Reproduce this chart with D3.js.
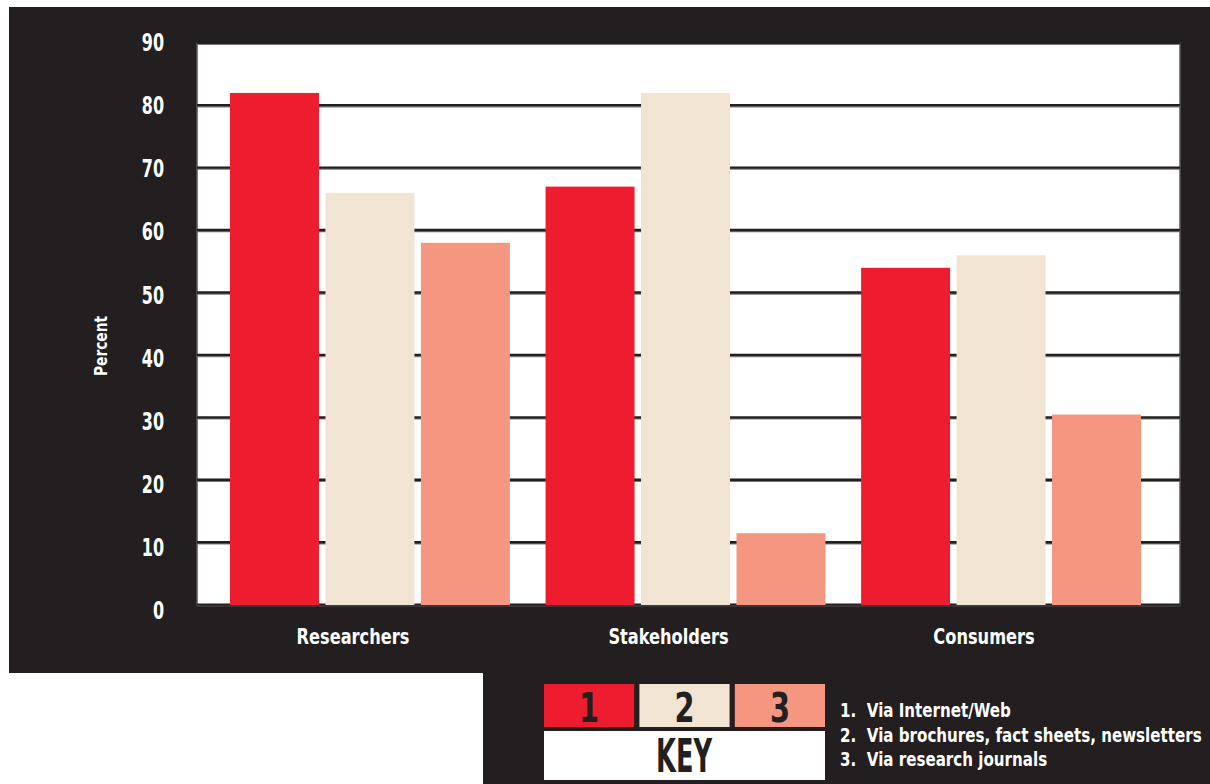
<!DOCTYPE html>
<html>
<head>
<meta charset="utf-8">
<script src="https://cdn.jsdelivr.net/npm/d3@7"></script>
<style>
  html, body { margin: 0; padding: 0; background: #ffffff; }
  svg { display: block; }
  text { font-family: "Liberation Sans Narrow", "DejaVu Sans Condensed", "Liberation Sans", sans-serif; font-weight: bold; white-space: pre; }
</style>
</head>
<body>
<svg id="chart" width="1210" height="784"></svg>
<script>
// Audience groups and the three dissemination channels
const categories = ["Researchers", "Stakeholders", "Consumers"];
const seriesKeys = ["1", "2", "3"];
const seriesNames = [
  "1.  Via Internet/Web",
  "2.  Via brochures, fact sheets, newsletters",
  "3.  Via research journals"
];
// Percent per channel, one array per channel, ordered like categories
const viaWeb = [82, 67, 54];
const viaPrint = [66, 82, 56];
const viaJournals = [58, 11.5, 30.5];
const yTicks = [0, 10, 20, 30, 40, 50, 60, 70, 80, 90];
const yLabel = "Percent";
const keyLabel = "KEY";

const colors = ["#ed1c2e", "#f1e4d2", "#f59680"];
const dark = "#231f20";

const series = [viaWeb, viaPrint, viaJournals];
const rows = categories.map((c, i) => ({
  category: c,
  values: seriesKeys.map((k, j) => ({ key: k, value: series[j][i], color: colors[j] }))
}));

const svg = d3.select("#chart");

// Dark panels behind the chart and the key
svg.append("rect").attr("x", 9).attr("y", 7).attr("width", 1201).attr("height", 666).attr("fill", dark);
svg.append("rect").attr("x", 483).attr("y", 672).attr("width", 727).attr("height", 112).attr("fill", dark);

const plot = { left: 197, right: 1180, top: 43, bottom: 605 };

const y = d3.scaleLinear().domain([0, 90]).range([plot.bottom, plot.top]);
const x0 = d3.scaleBand().domain(categories).range([230, 1141]).paddingInner(0.113).paddingOuter(0);
const x1 = d3.scaleBand().domain(seriesKeys).range([0, x0.bandwidth()]).paddingInner(0.068).paddingOuter(0);

// White plotting area with a thin grey frame
svg.append("rect")
  .attr("x", plot.left).attr("y", plot.top)
  .attr("width", plot.right - plot.left).attr("height", plot.bottom - plot.top)
  .attr("fill", "#ffffff").attr("stroke", "#5a5657").attr("stroke-width", 1.5);

// Horizontal grid lines
const grid = svg.append("g");
grid.selectAll("line.shade").data(yTicks).join("line")
  .attr("class", "shade")
  .attr("x1", plot.left).attr("x2", plot.right)
  .attr("y1", d => y(d) + 1.2).attr("y2", d => y(d) + 1.2)
  .attr("stroke", "#7a7677").attr("stroke-width", 1.5);
grid.selectAll("line.main").data(yTicks).join("line")
  .attr("class", "main")
  .attr("x1", plot.left).attr("x2", plot.right)
  .attr("y1", d => y(d) - 0.3).attr("y2", d => y(d) - 0.3)
  .attr("stroke", dark).attr("stroke-width", 2.4);

// Bars
const groups = svg.append("g").selectAll("g").data(rows).join("g")
  .attr("transform", d => `translate(${x0(d.category)},0)`);
groups.selectAll("rect").data(d => d.values).join("rect")
  .attr("x", d => x1(d.key))
  .attr("width", x1.bandwidth())
  .attr("y", d => y(d.value))
  .attr("height", d => y(0) - y(d.value))
  .attr("fill", d => d.color);

// Baseline
svg.append("line")
  .attr("x1", plot.left).attr("x2", plot.right)
  .attr("y1", y(0) + 1).attr("y2", y(0) + 1)
  .attr("stroke", "#3a3637").attr("stroke-width", 2);

// Y axis labels (narrowed horizontally for a condensed look)
const yAxis = d3.axisLeft(y).tickValues(yTicks).tickSize(0).tickPadding(0).tickFormat(d3.format("d"));
const yg = svg.append("g").attr("transform", "translate(164,0)").call(yAxis);
yg.select(".domain").remove();
yg.selectAll("text")
  .attr("fill", "#ffffff")
  .attr("font-size", 24)
  .attr("dy", "0.36em")
  .attr("x", 0)
  .attr("transform", d => `translate(0,${(90 - d) / 90 * 6 - 1}) scale(0.74,1)`)
  .style("font-family", "'Liberation Sans Narrow', 'DejaVu Sans Condensed', sans-serif")
  .style("font-weight", "bold");

svg.append("text")
  .attr("transform", `translate(107,${(plot.top + plot.bottom) / 2 + 22}) rotate(-90) scale(0.85,1)`)
  .attr("text-anchor", "middle")
  .attr("fill", "#ffffff")
  .attr("font-size", 18)
  .text(yLabel);

// Category labels
const xAxis = d3.axisBottom(x0).tickSize(0).tickPadding(0);
const xg = svg.append("g").attr("transform", `translate(-17,${plot.bottom})`).call(xAxis);
xg.select(".domain").remove();
xg.selectAll("text")
  .attr("fill", "#ffffff")
  .attr("font-size", 22)
  .attr("dy", 0)
  .attr("y", 0)
  .attr("transform", "translate(0,39) scale(0.82,1)")
  .style("font-family", "'Liberation Sans Narrow', 'DejaVu Sans Condensed', sans-serif")
  .style("font-weight", "bold");

// Key: numbered swatches, KEY box and channel names
const kx = d3.scaleBand().domain(seriesKeys).range([544, 825]).paddingInner(0.055).paddingOuter(0);
const key = svg.append("g");
key.selectAll("rect.sw").data(seriesKeys).join("rect")
  .attr("class", "sw")
  .attr("x", d => kx(d)).attr("y", 684)
  .attr("width", kx.bandwidth()).attr("height", 43)
  .attr("fill", (d, i) => colors[i]);
key.selectAll("text.num").data(seriesKeys).join("text")
  .attr("class", "num")
  .attr("transform", d => `translate(${kx(d) + kx.bandwidth() / 2},722) scale(0.8,1)`)
  .attr("text-anchor", "middle")
  .attr("fill", dark)
  .attr("font-size", 40)
  .text(d => d);
key.append("rect")
  .attr("x", 544).attr("y", 731).attr("width", 281).attr("height", 49)
  .attr("fill", "#ffffff");
key.append("text")
  .attr("x", 684).attr("y", 772)
  .attr("text-anchor", "middle")
  .attr("fill", dark)
  .attr("font-size", 46)
  .attr("textLength", 56)
  .attr("lengthAdjust", "spacingAndGlyphs")
  .text(keyLabel);
key.selectAll("text.name").data(seriesNames).join("text")
  .attr("class", "name")
  .attr("transform", (d, i) => `translate(840,${717 + i * 24.5}) scale(0.84,1)`)
  .attr("fill", "#ffffff")
  .attr("font-size", 20)
  .text(d => d);
</script>
</body>
</html>
